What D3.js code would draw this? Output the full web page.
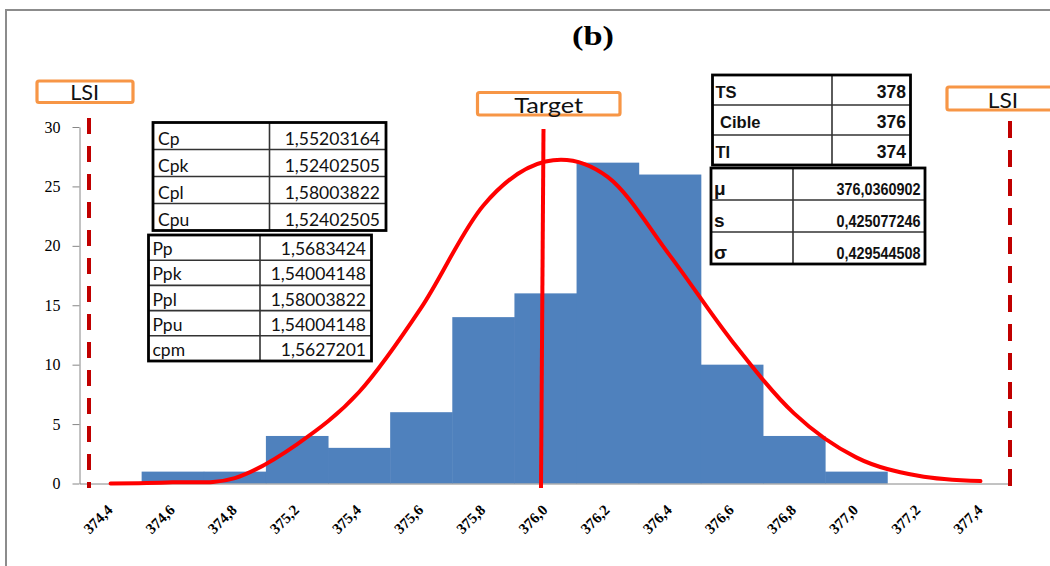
<!DOCTYPE html>
<html>
<head>
<meta charset="utf-8">
<script src="https://cdn.jsdelivr.net/npm/d3@7"></script>
<style>
  html, body { margin: 0; padding: 0; background: #fff; }
  svg { display: block; }
</style>
</head>
<body>
<svg id="chart" width="1050" height="566"></svg>
<script>
// ---------- data ----------
const categories = ["374,4","374,6","374,8","375,2","375,4","375,6","375,8","376,0","376,2","376,4","376,6","376,8","377,0","377,2","377,4"];
const frequencies = [0, 1, 1, 4, 3, 6, 14, 16, 27, 26, 10, 4, 1, 0, 0];
const normalCurve = [0, 0.1, 0.45, 3.3, 7.7, 14.8, 23.4, 27.1, 25.8, 19.2, 12.0, 5.9, 2.2, 0.65, 0.2];
const yTicks = [0, 5, 10, 15, 20, 25, 30];
const capabilityRows = [["Cp", "1,55203164"], ["Cpk", "1,52402505"], ["Cpl", "1,58003822"], ["Cpu", "1,52402505"]];
const performanceRows = [["Pp", "1,5683424"], ["Ppk", "1,54004148"], ["Ppl", "1,58003822"], ["Ppu", "1,54004148"], ["cpm", "1,5627201"]];
const toleranceRows = [["TS", "378"], ["\u00a0Cible", "376"], ["TI", "374"]];
const statsRows = [["\u03bc", "376,0360902"], ["s", "0,425077246"], ["\u03c3", "0,429544508"]];
const targetCategory = "376,0";
const titleText = "(b)";

// ---------- setup ----------
const svg = d3.select("#chart");
const x = d3.scaleBand().domain(categories).range([79.5, 1011.5]).padding(0);
const y = d3.scaleLinear().domain([0, 30]).range([483.5, 127]);
const bw = x.bandwidth();

// outer frame
svg.append("rect").attr("x", 6).attr("y", 10).attr("width", 1080).attr("height", 600)
  .attr("fill", "#fff").attr("stroke", "#8c8c8c").attr("stroke-width", 2);

// title
svg.append("text").attr("x", 593).attr("y", 45).attr("text-anchor", "middle")
  .attr("font-family", "'Liberation Serif', 'Times New Roman', serif").attr("font-weight", "bold")
  .attr("font-size", 28).attr("textLength", 42).attr("lengthAdjust", "spacingAndGlyphs")
  .text(titleText);

// bars
svg.append("g").selectAll("rect").data(categories).join("rect")
  .attr("x", d => x(d))
  .attr("y", (d, i) => y(frequencies[i]))
  .attr("width", bw + 0.5)
  .attr("height", (d, i) => y(0) - y(frequencies[i]))
  .attr("fill", "#4f81bd");

// y axis
const yAxis = svg.append("g").attr("transform", `translate(${x.range()[0]},0)`)
  .call(d3.axisLeft(y).tickValues(yTicks).tickSize(7).tickSizeOuter(0).tickPadding(12));
yAxis.select(".domain").attr("stroke", "#868686");
yAxis.selectAll(".tick line").attr("stroke", "#868686");
yAxis.selectAll(".tick text").attr("font-family", "'Liberation Serif', 'Times New Roman', serif")
  .attr("font-size", 16).attr("fill", "#000");

// x axis
const xAxis = svg.append("g").attr("transform", `translate(0,${y(0)})`)
  .call(d3.axisBottom(x).tickSize(0).tickSizeOuter(0));
xAxis.select(".domain").attr("stroke", "#868686");
xAxis.selectAll(".tick text")
  .attr("font-family", "'Liberation Serif', 'Times New Roman', serif")
  .attr("font-weight", "bold").attr("font-size", 15).attr("fill", "#000")
  .attr("text-anchor", "end").attr("x", 3).attr("y", 27.5).attr("dy", 0)
  .attr("transform", "rotate(-45, 3, 27.5)");

// LSI dashed lines
const xl = x.range()[0] + 9.5, xr = x.range()[1] - 1.5;
svg.append("line").attr("x1", xl).attr("x2", xl).attr("y1", 118).attr("y2", 488)
  .attr("stroke", "#c00000").attr("stroke-width", 4).attr("stroke-dasharray", "16,12");
svg.append("line").attr("x1", xr).attr("x2", xr).attr("y1", 121).attr("y2", 488)
  .attr("stroke", "#c00000").attr("stroke-width", 4).attr("stroke-dasharray", "17,12");

// target line
const xt = x(targetCategory) + bw / 2 - 4.5;
svg.append("line").attr("x1", xt + 2.5).attr("x2", xt).attr("y1", 129).attr("y2", 488)
  .attr("stroke", "#ff0000").attr("stroke-width", 4);

// normal curve
const line = d3.line()
  .x((d, i) => x(categories[i]) + bw / 2)
  .y(d => y(d))
  .curve(d3.curveCatmullRom.alpha(0));
svg.append("path").datum(normalCurve).attr("d", line)
  .attr("fill", "none").attr("stroke", "#ff0000").attr("stroke-width", 4)
  .attr("stroke-linecap", "round").attr("stroke-linejoin", "round");

// tables
function drawTable(rows, o) {
  const g = svg.append("g");
  const h = rows.length * o.rowH;
  g.append("rect").attr("x", o.x).attr("y", o.y).attr("width", o.w).attr("height", h)
    .attr("fill", "#fff").attr("stroke", "none");
  rows.forEach((r, i) => {
    if (i > 0) {
      g.append("line").attr("x1", o.x).attr("x2", o.x + o.w)
        .attr("y1", o.y + i * o.rowH).attr("y2", o.y + i * o.rowH)
        .attr("stroke", "#333").attr("stroke-width", 1.6);
    }
    const base = o.y + (i + 1) * o.rowH - o.baseOff;
    g.append("text").attr("x", o.x + o.padL).attr("y", base)
      .attr("font-family", o.font).attr("font-weight", o.weight).attr("font-size", o.labelSize)
      .attr("fill", "#111").text(r[0]);
    const vt = g.append("text").attr("x", o.x + o.w - o.padR).attr("y", base).attr("text-anchor", "end")
      .attr("font-family", o.font).attr("font-weight", o.weight).attr("font-size", o.size)
      .attr("fill", "#111").text(r[1]);
    if (o.valueLength) vt.attr("textLength", o.valueLength).attr("lengthAdjust", "spacingAndGlyphs");
  });
  g.append("line").attr("x1", o.div).attr("x2", o.div).attr("y1", o.y).attr("y2", o.y + h)
    .attr("stroke", "#333").attr("stroke-width", 1.6);
  g.append("rect").attr("x", o.x).attr("y", o.y).attr("width", o.w).attr("height", h)
    .attr("fill", "none").attr("stroke", "#000").attr("stroke-width", 2.8);
}
drawTable(capabilityRows, { x: 153, y: 122.5, w: 233, rowH: 27, div: 269.5, baseOff: 5,
  padL: 5, padR: 6, font: "Lato, 'Open Sans', sans-serif", weight: "normal", size: 17.5, labelSize: 17.5 });
drawTable(performanceRows, { x: 148.5, y: 235, w: 223, rowH: 25.2, div: 260, baseOff: 5,
  padL: 4, padR: 5.5, font: "Lato, 'Open Sans', sans-serif", weight: "normal", size: 17.5, labelSize: 17.5 });
drawTable(toleranceRows, { x: 712.5, y: 75, w: 198, rowH: 30, div: 832, baseOff: 7.5,
  padL: 3, padR: 4.5, font: "'Liberation Sans', Arial, sans-serif", weight: "bold", size: 17.5, labelSize: 16.5 });
drawTable(statsRows, { x: 711, y: 168, w: 214, rowH: 32, div: 793, baseOff: 5.5,
  padL: 3, padR: 4.5, font: "'Liberation Sans', Arial, sans-serif", weight: "bold", size: 16.5, labelSize: 19, valueLength: 84 });

// orange label boxes
function labelBox(bx, by, bw2, bh, text, cx, base, tl) {
  svg.append("rect").attr("x", bx).attr("y", by).attr("width", bw2).attr("height", bh)
    .attr("rx", 2).attr("fill", "#fff").attr("stroke", "#f79646").attr("stroke-width", 3.2);
  svg.append("text").attr("x", cx).attr("y", base).attr("text-anchor", "middle")
    .attr("font-family", "Lato, 'Open Sans', sans-serif").attr("font-size", 21).attr("fill", "#111")
    .attr("textLength", tl).attr("lengthAdjust", "spacingAndGlyphs").text(text);
}
labelBox(37, 81, 96, 21.5, "LSI", 84.7, 100, 29);
labelBox(947, 87, 130, 23, "LSI", 1003, 108.3, 30.5);
labelBox(477.5, 92.5, 142.5, 22.5, "Target", 548.7, 112.5, 69);
</script>
</body>
</html>
